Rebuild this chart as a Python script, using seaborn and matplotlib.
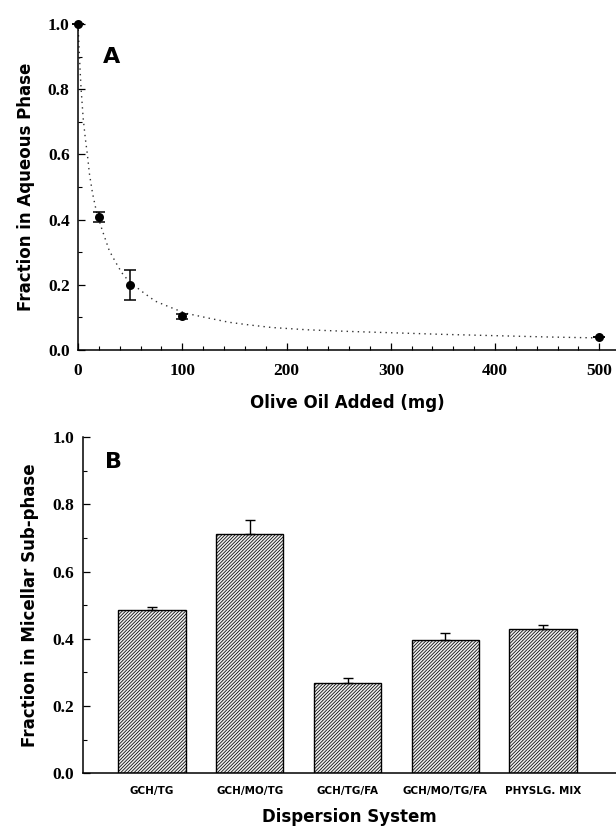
import numpy as np
import matplotlib
matplotlib.use("Agg")
import matplotlib.pyplot as plt
from matplotlib.ticker import MultipleLocator, FormatStrFormatter
import seaborn as sns

# ── data ──────────────────────────────────────────────────────────────────────
# panel A: measured points
oil_mg = [0, 20, 50, 100, 500]
frac_aqueous = [1.0, 0.409, 0.199, 0.103, 0.040]
frac_aqueous_err = [0.0, 0.015, 0.045, 0.008, 0.0]

# panel A: fitted curve
curve_mg = [0, 1, 2, 3, 5, 7, 9, 11, 14, 18, 23, 30, 36, 42, 49, 62, 74, 87,
            103, 125, 145, 164, 186, 220, 260, 300, 350, 400, 450, 500]
curve_frac = [1.0, 0.93, 0.86, 0.80, 0.71, 0.65, 0.60, 0.54, 0.48, 0.42, 0.37,
              0.305, 0.27, 0.237, 0.21, 0.178, 0.150, 0.133, 0.113, 0.098,
              0.085, 0.077, 0.069, 0.062, 0.057, 0.053, 0.048, 0.044, 0.040,
              0.037]

# panel B: bars
systems = ["GCH/TG", "GCH/MO/TG", "GCH/TG/FA", "GCH/MO/TG/FA", "PHYSLG. MIX"]
frac_micellar = [0.486, 0.711, 0.268, 0.397, 0.430]
frac_micellar_err = [0.008, 0.041, 0.015, 0.020, 0.012]

# ── style ─────────────────────────────────────────────────────────────────────
sns.set_theme(style="ticks")
plt.rcParams["font.family"] = ["DejaVu Sans"]
plt.rcParams["text.color"] = "black"
plt.rcParams["axes.labelcolor"] = "black"
plt.rcParams["xtick.color"] = "black"
plt.rcParams["ytick.color"] = "black"
plt.rcParams["hatch.linewidth"] = 0.55
plt.rcParams["hatch.color"] = "black"

TICK_FONT = dict(family=["Liberation Serif", "DejaVu Serif"], weight="bold",
                 size=12.5, color="black")
LABEL_FONT = dict(family=["DejaVu Sans"], weight="bold", size=12, color="black")

fig = plt.figure(figsize=(6.16, 8.30), dpi=100)
axA = fig.add_axes([0.1266, 0.5783, 0.8734, 0.3928])
axB = fig.add_axes([0.1343, 0.0683, 0.8657, 0.4052])


def style_axis(ax):
    sns.despine(ax=ax)
    for sp in ["left", "bottom"]:
        ax.spines[sp].set_color("black")
        ax.spines[sp].set_linewidth(1.1)
    ax.yaxis.set_major_locator(MultipleLocator(0.2))
    ax.yaxis.set_minor_locator(MultipleLocator(0.1))
    ax.yaxis.set_major_formatter(FormatStrFormatter("%.1f"))
    ax.tick_params(axis="both", which="major", direction="in", length=5,
                   width=0.9, color="black", pad=6)
    ax.tick_params(axis="both", which="minor", direction="in", length=3,
                   width=0.8, color="black")
    for lab in ax.get_yticklabels():
        lab.set(**TICK_FONT)


# ── panel A ───────────────────────────────────────────────────────────────────
sns.lineplot(x=curve_mg, y=curve_frac, ax=axA, color="#333333",
             linewidth=1.0, linestyle=(0, (1, 3)), sort=False)
axA.errorbar(oil_mg, frac_aqueous, yerr=frac_aqueous_err, fmt="none",
             ecolor="black", elinewidth=1.1, capsize=4, capthick=1.1, clip_on=False)
sns.scatterplot(x=oil_mg, y=frac_aqueous, ax=axA, color="black", s=42,
                edgecolor="black", linewidth=0, zorder=5, clip_on=False)
axA.set_xlim(0, 516)
axA.set_ylim(0, 1.0)
axA.xaxis.set_major_locator(MultipleLocator(100))
axA.xaxis.set_minor_locator(MultipleLocator(20))
axA.xaxis.set_major_formatter(FormatStrFormatter("%d"))
style_axis(axA)
axA.tick_params(axis="x", which="major", pad=9)
for lab in axA.get_xticklabels():
    lab.set(**TICK_FONT)
axA.set_xlabel("Olive Oil Added (mg)", **LABEL_FONT)
axA.set_ylabel("Fraction in Aqueous Phase", **LABEL_FONT)
axA.xaxis.set_label_coords(0.5, -0.135)
axA.yaxis.set_label_coords(-0.08, 0.5)
axA.text(0.047, 0.90, "A", transform=axA.transAxes, fontsize=16,
         fontweight="bold", va="center", ha="left", color="black")

# ── panel B ───────────────────────────────────────────────────────────────────
sns.barplot(x=systems, y=frac_micellar, ax=axB, color="#eeeeee",
            edgecolor="black", linewidth=1.0, width=0.69, errorbar=None,
            saturation=1)
for bar in axB.patches:
    bar.set_hatch("/" * 10)
pos = np.arange(len(systems))
axB.errorbar(pos, frac_micellar,
             yerr=[np.zeros(len(systems)), frac_micellar_err], fmt="none",
             ecolor="black", elinewidth=1.0, capsize=3.5, capthick=1.0)
axB.set_xlim(-0.709, 4.747)
axB.set_ylim(0, 1.0)
style_axis(axB)
axB.tick_params(axis="x", which="both", length=0, pad=9)
for lab in axB.get_xticklabels():
    lab.set(family=["DejaVu Sans"], weight="bold", size=7.5, color="black")
axB.set_xlabel("Dispersion System", **LABEL_FONT)
axB.set_ylabel("Fraction in Micellar Sub-phase", **LABEL_FONT)
axB.xaxis.set_label_coords(0.5, -0.104)
axB.yaxis.set_label_coords(-0.082, 0.5)
axB.text(0.042, 0.925, "B", transform=axB.transAxes, fontsize=16,
         fontweight="bold", va="center", ha="left", color="black")

fig.savefig("out.png", dpi=100)
